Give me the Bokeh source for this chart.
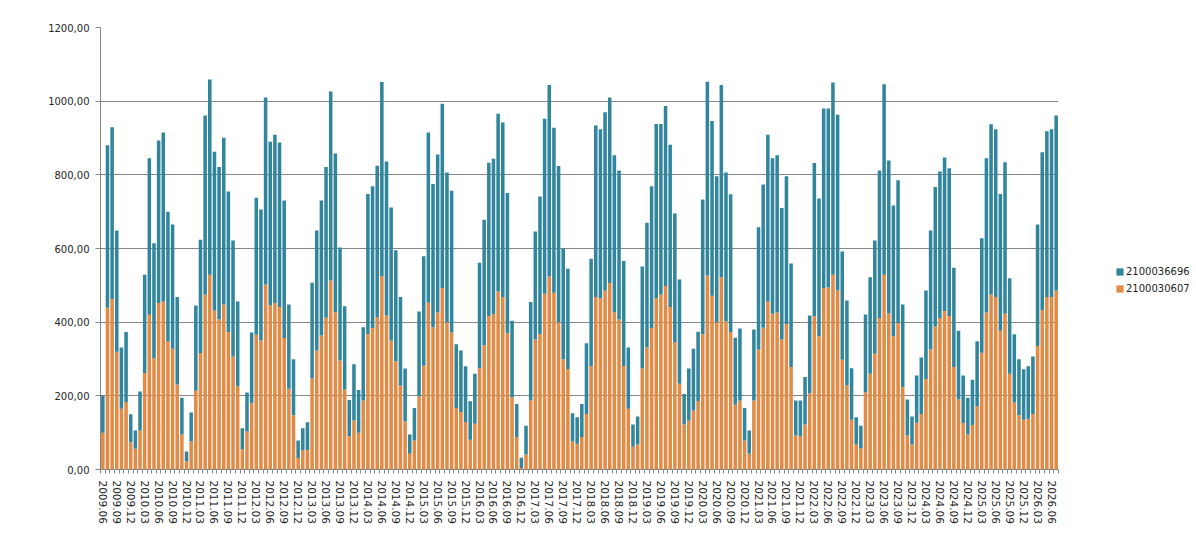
from bokeh.plotting import figure
from bokeh.models import ColumnDataSource, FixedTicker, Legend, LegendItem, Range1d
from bokeh.embed import file_html
from bokeh.resources import INLINE

# Categories: monthly, 2009.06 .. 2026.07
months = [f"{2009 + (5 + i) // 12}.{(5 + i) % 12 + 1:02d}" for i in range(206)]

# Series 2100030607 (orange, bottom of stack)
s_2100030607 = [
    100, 439, 463, 320, 165, 183, 74, 56, 106, 262, 420, 302, 452, 456, 348, 328, 231, 95, 22, 76,
    214, 316, 475, 529, 432, 407, 448, 373, 307, 226, 54, 103, 180, 366, 350, 502, 445, 452, 441, 357,
    219, 147, 31, 52, 53, 248, 323, 364, 412, 513, 427, 296, 217, 90, 133, 100, 187, 368, 384, 414,
    525, 418, 350, 294, 228, 130, 43, 79, 198, 282, 453, 386, 426, 493, 400, 372, 167, 156, 129, 81,
    124, 275, 337, 417, 422, 483, 468, 370, 196, 88, 4, 41, 187, 353, 368, 477, 524, 480, 400, 299,
    273, 76, 70, 88, 151, 281, 468, 465, 486, 506, 427, 407, 281, 165, 62, 68, 275, 331, 384, 465,
    475, 498, 441, 346, 233, 122, 133, 160, 186, 367, 527, 472, 400, 522, 402, 373, 176, 187, 79, 43,
    187, 326, 385, 456, 423, 426, 353, 395, 278, 92, 90, 122, 207, 416, 362, 493, 495, 529, 486, 298,
    229, 135, 68, 58, 210, 260, 314, 411, 529, 424, 362, 398, 224, 92, 68, 127, 151, 246, 326, 388,
    411, 430, 417, 278, 190, 126, 95, 121, 172, 317, 426, 475, 468, 377, 423, 260, 182, 147, 135, 138,
    151, 335, 433, 468, 468, 486,
]

# Series 2100036696 (teal, top of stack)
s_2100036696 = [
    101, 441, 466, 329, 166, 190, 76, 50, 106, 267, 425, 312, 441, 459, 352, 337, 237, 100, 27, 79,
    231, 308, 486, 530, 431, 414, 453, 382, 315, 230, 58, 106, 192, 372, 356, 508, 445, 457, 447, 373,
    229, 152, 48, 60, 75, 259, 326, 366, 409, 513, 431, 307, 226, 99, 153, 116, 199, 380, 385, 411,
    527, 418, 361, 301, 240, 144, 52, 88, 231, 297, 462, 389, 429, 500, 406, 385, 173, 167, 151, 104,
    136, 286, 341, 416, 422, 483, 474, 381, 208, 90, 28, 78, 268, 293, 373, 475, 520, 448, 424, 300,
    272, 77, 72, 90, 192, 291, 466, 459, 484, 504, 426, 405, 285, 166, 60, 76, 276, 339, 385, 473,
    463, 489, 441, 349, 283, 83, 141, 168, 188, 366, 526, 474, 396, 522, 404, 374, 182, 196, 88, 63,
    193, 332, 389, 453, 422, 427, 357, 401, 281, 95, 97, 129, 211, 416, 374, 487, 485, 522, 477, 294,
    230, 140, 74, 61, 211, 262, 308, 401, 517, 415, 355, 387, 224, 98, 76, 128, 153, 240, 323, 379,
    398, 417, 401, 270, 187, 129, 100, 123, 176, 311, 419, 462, 456, 371, 411, 259, 185, 152, 137, 142,
    156, 330, 428, 450, 456, 475,
]

y_ticks = [0, 200, 400, 600, 800, 1000, 1200]
y_labels = ["0,00", "200,00", "400,00", "600,00", "800,00", "1000,00", "1200,00"]

ORANGE = "#E28B46"
TEAL = "#31859C"
GRAY = "#868686"
TXT = "#262626"

n = len(months)
x = list(range(n))
source = ColumnDataSource(dict(x=x, a=s_2100030607, b=s_2100036696))

p = figure(frame_width=958, frame_height=442, output_backend="svg", toolbar_location=None,
           x_range=Range1d(-0.5, n - 0.5), y_range=Range1d(0, 1200))
p.min_border_left = 100
p.min_border_right = 138
p.min_border_top = 27
p.min_border_bottom = 85
p.outline_line_color = None
p.background_fill_color = "white"
p.border_fill_color = "white"

rs = p.vbar_stack(["a", "b"], x="x", width=0.76, source=source,
                  color=[ORANGE, TEAL], line_color=None)

# x axis
label_idx = list(range(0, n, 3))
p.xaxis.ticker = FixedTicker(ticks=label_idx, minor_ticks=[i - 0.5 for i in range(n + 1)])
p.xaxis.major_label_overrides = {i: months[i] for i in label_idx}
p.xaxis.major_label_orientation = "vertical"
p.xaxis.major_tick_out = 0
p.xaxis.major_tick_in = 0
p.xaxis.minor_tick_out = 4
p.xaxis.minor_tick_in = 0
p.xaxis.minor_tick_line_color = GRAY
p.xaxis.axis_line_color = GRAY
p.xaxis.major_label_standoff = 7
p.xaxis.major_label_text_font = "DejaVu Sans"
p.xaxis.major_label_text_font_size = "10.5px"
p.xaxis.major_label_text_color = TXT
p.xgrid.visible = False

# y axis
p.yaxis.ticker = FixedTicker(ticks=y_ticks)
p.yaxis.major_label_overrides = {t: l for t, l in zip(y_ticks, y_labels)}
p.yaxis.major_tick_out = 5
p.yaxis.major_tick_in = 0
p.yaxis.minor_tick_line_color = None
p.yaxis.major_tick_line_color = GRAY
p.yaxis.axis_line_color = GRAY
p.yaxis.major_label_standoff = 6
p.yaxis.major_label_text_font = "DejaVu Sans"
p.yaxis.major_label_text_font_size = "10px"
p.yaxis.major_label_text_color = TXT
p.ygrid.ticker = FixedTicker(ticks=y_ticks)
p.ygrid.grid_line_color = GRAY

legend = Legend(items=[LegendItem(label="2100036696", renderers=[rs[1]]),
                       LegendItem(label="2100030607", renderers=[rs[0]])],
                location=(57, 175))
legend.padding = 0
legend.margin = 0
legend.spacing = 6
legend.glyph_width = 9
legend.glyph_height = 9
legend.label_standoff = 2
legend.label_text_font = "DejaVu Sans"
legend.label_text_font_size = "10px"
legend.label_text_color = TXT
legend.border_line_color = None
legend.background_fill_alpha = 0
p.add_layout(legend, "right")

open("out.html", "w").write(file_html(p, INLINE))
